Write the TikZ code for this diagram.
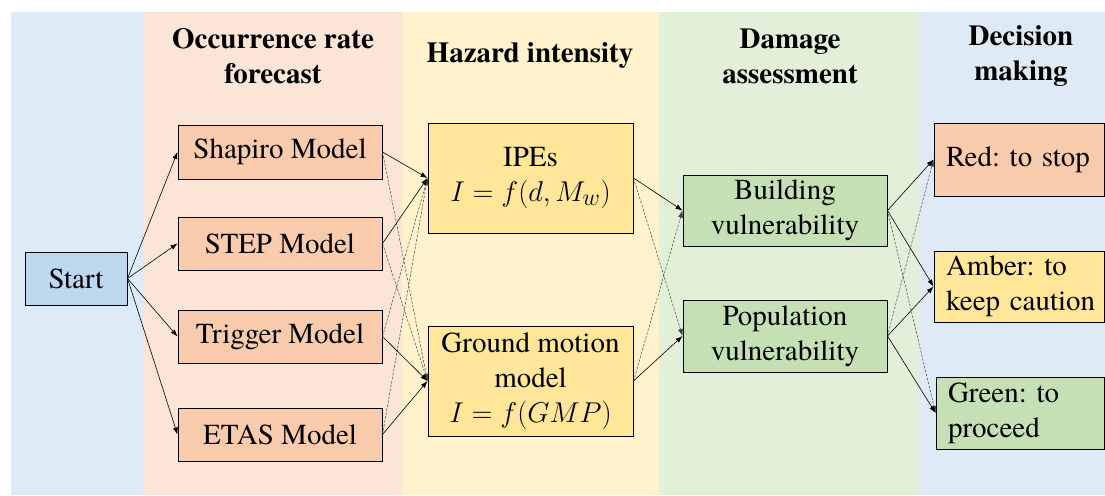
\documentclass[tikz,border=0pt]{standalone}
\usepackage{fontspec}
\usepackage{graphicx}
\IfFontExistsTF{texgyretermes-regular.otf}{%
  \newfontfamily\tnr{texgyretermes}[Extension=.otf, UprightFont=*-regular, BoldFont=*-bold, ItalicFont=*-italic, BoldItalicFont=*-bolditalic]}{%
  \newfontfamily\tnr{Latin Modern Roman}}
\usetikzlibrary{arrows.meta}
\definecolor{bandblue}{HTML}{DEEBF7}
\definecolor{bandorange}{HTML}{FBE5D6}
\definecolor{bandyellow}{HTML}{FFF2CC}
\definecolor{bandgreen}{HTML}{E2F0D9}
\definecolor{fillblue}{HTML}{BDD7EE}
\definecolor{fillorange}{HTML}{F8CBAD}
\definecolor{fillyellow}{HTML}{FFE699}
\definecolor{fillgreen}{HTML}{C5E0B4}
\newcommand{\bigmath}[1]{\scalebox{1.15}{$#1$}}
\newcommand{\nohyph}{\hyphenpenalty=10000\relax}
\frenchspacing
\begin{document}
\begin{tikzpicture}[x=1pt,y=-1pt,
  txt/.style={font=\tnr\fontsize{29}{35}\selectfont\nohyph},
  head/.style={font=\tnr\fontsize{29}{35}\selectfont\bfseries, align=center, inner sep=0pt},
  box/.style={txt, draw=black, line width=1pt, inner sep=0pt, align=center},
  resbox/.style={txt, draw=black, line width=1pt, inner ysep=0pt, inner xsep=12pt, align=left},
  conn/.style={line width=0.6pt, -{Latex[length=7pt,width=5pt]}},
  dconn/.style={line width=0.5pt, black!75, dash pattern=on 2.5pt off 1.5pt, -{Latex[length=7pt,width=5pt]}}
]
\useasboundingbox (0,0) rectangle (1105,495);
% bands
\fill[bandblue] (11,12) rectangle (144,495);
\fill[bandorange] (144,12) rectangle (402,495);
\fill[bandyellow] (402,12) rectangle (659,495);
\fill[bandgreen] (659,12) rectangle (920,495);
\fill[bandblue] (920,12) rectangle (1105,495);
% headings
\node[head] (h1) at (273,56) {Occurrence rate\\forecast};
\node[head] (h2) at (530,56) {Hazard intensity};
\node[head] (h3) at (790,56) {Damage\\assessment};
\node[head] (h4) at (1021,56) {Decision\\making};
% nodes
\node[box, fill=fillblue, minimum width=102, minimum height=53] (start) at (76,278.5) {Start};
\node[box, fill=fillorange, minimum width=204, minimum height=54] (shapiro) at (280,152) {Shapiro Model};
\node[box, fill=fillorange, minimum width=204, minimum height=53] (step) at (280,243.5) {STEP Model};
\node[box, fill=fillorange, minimum width=204, minimum height=53] (trigger) at (280,336.5) {Trigger Model};
\node[box, fill=fillorange, minimum width=204, minimum height=53] (etas) at (280,434.5) {ETAS Model};
\node[box, fill=fillyellow, minimum width=205, minimum height=110] (ipes) at (530.5,178) {IPEs\\\bigmath{I=f(d,M_w)}};
\node[box, fill=fillyellow, minimum width=205, minimum height=110] (gmm) at (530.5,381) {Ground motion\\model\\\bigmath{I=f(GMP)}};
\node[box, fill=fillgreen, minimum width=204, minimum height=71] (building) at (785,210.5) {Building\\vulnerability};
\node[box, fill=fillgreen, minimum width=204, minimum height=72] (population) at (785,336) {Population\\vulnerability};
\node[resbox, fill=fillorange, text width=146, minimum height=73] (red) at (1019,159.5) {\mbox{Red: to stop}};
\node[resbox, fill=fillyellow, text width=146, minimum height=71] (amber) at (1019,286.5) {\mbox{Amber: to}\\\mbox{keep caution}};
\node[resbox, fill=fillgreen, text width=144, minimum height=72] (green) at (1020,413) {\mbox{Green: to}\\\mbox{proceed}};
% connectors: start to models
\draw[conn] (start.east) -- (shapiro.west);
\draw[conn] (start.east) -- (step.west);
\draw[conn] (start.east) -- (trigger.west);
\draw[conn] (start.east) -- (etas.west);
% models to hazard
\draw[dconn] (shapiro.east) -- (gmm.west);
\draw[dconn] (step.east) -- (gmm.west);
\draw[dconn] (trigger.east) -- (ipes.west);
\draw[dconn] (etas.east) -- (ipes.west);
\draw[conn] (shapiro.east) -- (ipes.west);
\draw[conn] (step.east) -- (ipes.west);
\draw[conn] (trigger.east) -- (gmm.west);
\draw[conn] (etas.east) -- (gmm.west);
% hazard to damage
\draw[dconn] (ipes.east) -- (population.west);
\draw[dconn] (gmm.east) -- (building.west);
\draw[conn] (ipes.east) -- (building.west);
\draw[conn] (gmm.east) -- (population.west);
% damage to decision
\draw[dconn] (building.east) -- (green.west);
\draw[dconn] (population.east) -- (red.west);
\draw[conn] (building.east) -- (red.west);
\draw[conn] (building.east) -- (amber.west);
\draw[conn] (population.east) -- (amber.west);
\draw[conn] (population.east) -- (green.west);
\end{tikzpicture}
\end{document}
